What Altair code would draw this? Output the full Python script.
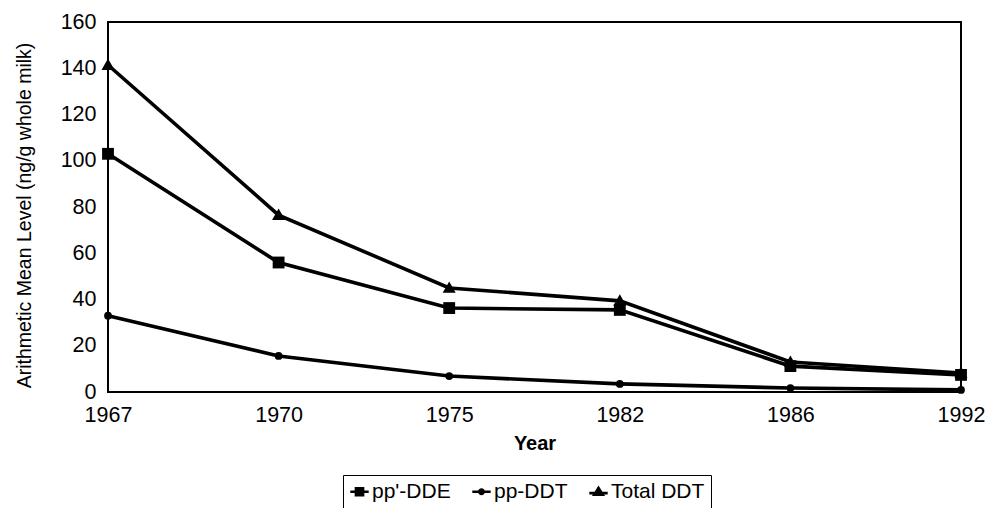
import altair as alt
import pandas as pd

years = ["1967", "1970", "1975", "1982", "1986", "1992"]
series_names = ["pp'-DDE", "pp-DDT", "Total DDT"]
dde = [103, 56, 36.3, 35.5, 11.2, 7.4]
ddt = [33, 15.6, 6.9, 3.5, 1.7, 0.9]
total = [141.4, 76.5, 45, 39.4, 13, 8.2]

rows = []
for name, vals in zip(series_names, [dde, ddt, total]):
    for y, v in zip(years, vals):
        rows.append({"Year": y, "value": v, "series": name})
df = pd.DataFrame(rows)

FONT = "Liberation Sans"

x_enc = alt.X("Year:N", sort=years,
              scale=alt.Scale(type="point", padding=0),
              axis=alt.Axis(title="Year", labelAngle=0, labelFontSize=21.5, labelFont=FONT,
                            labelColor="black", ticks=False, labelPadding=12, domain=False,
                            titleFont=FONT, titleFontSize=20, titleFontWeight="bold",
                            titleColor="black", titlePadding=8))
y_enc = alt.Y("value:Q", scale=alt.Scale(domain=[0, 160]),
              axis=alt.Axis(title="Arithmetic Mean Level (ng/g whole milk)",
                            values=list(range(0, 161, 20)), labelFontSize=21.5, labelFont=FONT,
                            labelColor="black", ticks=False, labelPadding=12, domain=False,
                            grid=False, titleFont=FONT, titleFontSize=19.5, titleY=193,
                            titleFontWeight="normal", titleColor="black", titlePadding=26))

lines = alt.Chart(df).mark_line(color="black", strokeWidth=3.6).encode(
    x=x_enc, y=y_enc, detail="series:N")

marker_shapes = ["square", "circle", "M0,-1L1,0.75H-1Z"]
marker_sizes = [140, 60, 170]

point_layers = []
for name, shp, sz in zip(series_names, marker_shapes, marker_sizes):
    point_layers.append(
        alt.Chart(df).transform_filter(alt.datum.series == name)
        .mark_point(filled=True, color="black", opacity=1, shape=shp, size=sz)
        .encode(x=x_enc, y=y_enc)
    )

# legend glyphs: a short line plus a solid marker drawn with strokes
legend_paths = [
    "M-1.3,0H1.3M-0.5,-0.5H0.5V0.5H-0.5ZM-0.5,-0.3H0.5M-0.5,-0.1H0.5M-0.5,0.1H0.5M-0.5,0.3H0.5",
    "M-1.3,0H1.3M0.3,0A0.3,0.3,0,1,1,-0.3,0A0.3,0.3,0,1,1,0.3,0ZM0.12,0A0.12,0.12,0,1,1,-0.12,0A0.12,0.12,0,1,1,0.12,0Z",
    "M-1.3,0.2H1.3M0,-0.55L0.6,0.4H-0.6ZM-0.45,0.2H0.45M-0.3,0H0.3M-0.15,-0.2H0.15",
]

legend_layer = alt.Chart(df).mark_point(filled=False, color="black", opacity=0).encode(
    x=x_enc, y=y_enc,
    shape=alt.Shape("series:N",
                    scale=alt.Scale(domain=series_names, range=legend_paths),
                    legend=alt.Legend(title=None, orient="none", direction="horizontal",
                                      legendX=235, legendY=453,
                                      symbolOpacity=1,
                                      symbolStrokeColor="black", symbolStrokeWidth=2.6,
                                      symbolSize=200, labelFont=FONT, labelFontSize=21,
                                      labelColor="black", labelOffset=2, columnPadding=16,
                                      strokeColor="black", padding=6, cornerRadius=0)),
)

chart = alt.layer(lines, *point_layers, legend_layer).properties(
    width=853, height=370,
    background="white",
    autosize=alt.AutoSizeParams(type="none"),
    padding={"left": 100, "top": 14, "right": 25, "bottom": 116},
).configure_view(stroke="black", strokeWidth=2)

chart.save("out.html", embed_options={"renderer": "svg", "actions": False})
